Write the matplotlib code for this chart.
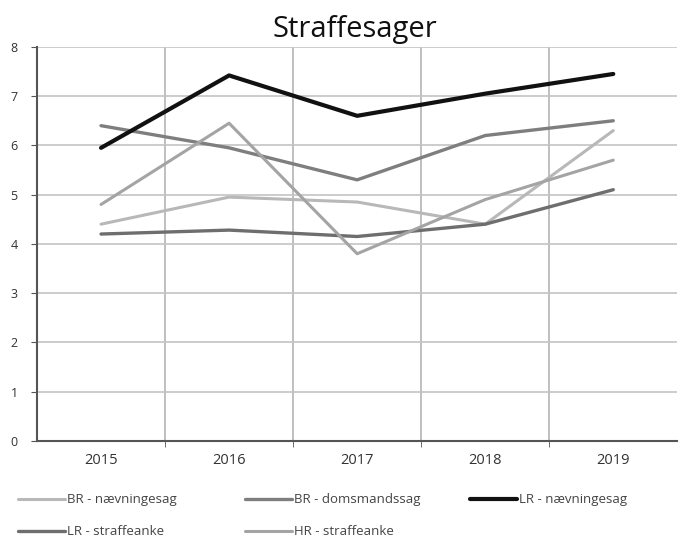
import matplotlib
matplotlib.use("Agg")
import matplotlib.pyplot as plt
from matplotlib.ticker import FixedLocator

plt.rcParams['font.family'] = ['Open Sans', 'DejaVu Sans']

years = ["2015", "2016", "2017", "2018", "2019"]

br_naevningesag = [4.4, 4.95, 4.85, 4.4, 6.3]
br_domsmandssag = [6.4, 5.95, 5.3, 6.2, 6.5]
lr_naevningesag = [5.95, 7.42, 6.6, 7.05, 7.45]
lr_straffeanke = [4.2, 4.28, 4.15, 4.4, 5.1]
hr_straffeanke = [4.8, 6.45, 3.8, 4.9, 5.7]

series = [
    ("BR - nævningesag", br_naevningesag, "#b8b8b8", 2.2),
    ("BR - domsmandssag", br_domsmandssag, "#7e7e7e", 2.4),
    ("LR - nævningesag", lr_naevningesag, "#111111", 3.0),
    ("LR - straffeanke", lr_straffeanke, "#6e6e6e", 2.4),
    ("HR - straffeanke", hr_straffeanke, "#a4a4a4", 2.2),
]

fig = plt.figure(figsize=(6.79, 5.45), dpi=100)
ax = fig.add_axes([0.0545, 0.191, 0.943, 0.723])

x = list(range(len(years)))
handles = []
for label, vals, color, lw in series:
    h, = ax.plot(x, vals, color=color, linewidth=lw, label=label,
                 solid_capstyle='round', solid_joinstyle='round')
    handles.append(h)

ax.set_xlim(-0.5, len(years) - 0.5)
ax.set_ylim(0, 8)
ax.set_yticks(range(0, 9))
ax.set_xticks(x)
ax.set_xticklabels(years, fontsize=10.5, color="#333333")
ax.xaxis.set_minor_locator(FixedLocator([i + 0.5 for i in range(len(years) - 1)]))
ax.tick_params(axis='x', which='major', length=0, pad=9)
ax.tick_params(axis='x', which='minor', length=4, color="#555555")
ax.tick_params(axis='y', labelsize=9, length=4, color="#555555", labelcolor="#333333", pad=10)

ax.grid(True, axis='y', color="#c4c4c4", linewidth=1.2)
ax.grid(True, axis='x', which='minor', color="#b4b4b4", linewidth=1.2)
ax.set_axisbelow(True)

for s in ['top', 'right']:
    ax.spines[s].set_visible(False)
ax.spines['left'].set_color("#555555")
ax.spines['left'].set_linewidth(1.5)
ax.spines['bottom'].set_color("#555555")
ax.spines['bottom'].set_linewidth(1.5)

fig.text(0.523, 0.945, "Straffesager", ha='center', va='center', fontsize=21, color="#111111")

# legend entries placed row by row like the original
legend_pos = [(0.0265, 0.0826), (0.361, 0.0826), (0.692, 0.0826),
              (0.0265, 0.0239), (0.361, 0.0239)]
for h, (lx, ly) in zip(handles, legend_pos):
    fig.legend(handles=[h], loc='center left', bbox_to_anchor=(lx, ly), frameon=False,
               fontsize=9.5, handlelength=3.56, handletextpad=0.15,
               borderpad=0, borderaxespad=0, labelcolor="#444444")

fig.savefig("out.png", dpi=100)
